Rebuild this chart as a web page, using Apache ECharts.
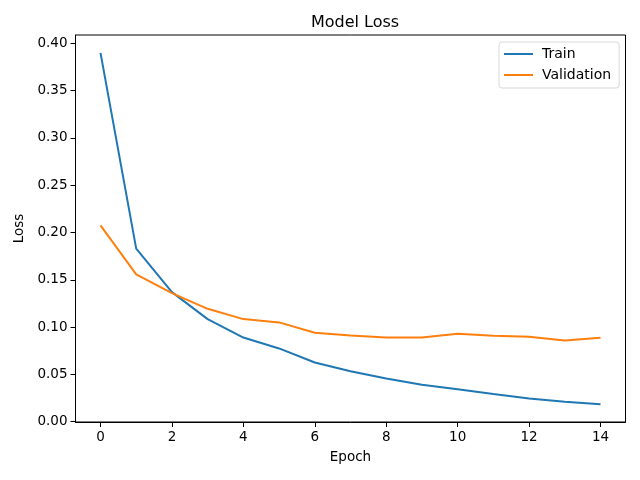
<!DOCTYPE html>
<html>
<head>
<meta charset="utf-8">
<script src="https://cdn.jsdelivr.net/npm/echarts@6/dist/echarts.min.js"></script>
<style>html,body{margin:0;padding:0;background:#fff}#c{width:640px;height:480px}</style>
</head>
<body>
<div id="c"></div>
<script>
var epochs = [0,1,2,3,4,5,6,7,8,9,10,11,12,13,14];
var trainLoss = [0.390,0.183,0.137,0.1085,0.089,0.0775,0.0626,0.0534,0.0457,0.039,0.0344,0.0294,0.0245,0.021,0.0185];
var valLoss = [0.2076,0.1558,0.136,0.1194,0.1085,0.105,0.094,0.0912,0.0891,0.0891,0.0929,0.0908,0.0898,0.086,0.0887];
var xTicks = [0,2,4,6,8,10,12,14];
var yTicks = [0,0.05,0.10,0.15,0.20,0.25,0.30,0.35,0.40];

var font = 'DejaVu Sans';
var chart = echarts.init(document.getElementById('c'), null, {renderer:'canvas'});
function pairs(xs, ys){ return xs.map(function(x,i){return [x, ys[i]];}); }
chart.setOption({
  animation:false,
  backgroundColor:'#fff',
  title:{text:'Model Loss', left:350, top:10, textAlign:'center',
    textStyle:{fontFamily:font, fontSize:16, fontWeight:'normal', color:'#000'}},
  grid:{left:75.5, right:14.5, top:35, bottom:58, show:true, borderColor:'#000', borderWidth:1, backgroundColor:'transparent'},
  legend:{orient:'vertical', left:499, top:42, padding:[5,8,6,5], itemGap:7,
    itemWidth:29, itemHeight:2, icon:'rect',
    backgroundColor:'#fff', borderColor:'#d9d9d9', borderWidth:1, borderRadius:3,
    textStyle:{fontFamily:font, fontSize:14, color:'#000', lineHeight:14, padding:[0,0,0,4]},
    data:['Train','Validation']},
  xAxis:{type:'value', min:-0.7, max:14.7, name:'Epoch', nameLocation:'middle', nameGap:28,
    nameTextStyle:{fontFamily:font, fontSize:13.5, color:'#000'},
    axisLine:{show:true, onZero:false, lineStyle:{color:'#000'}},
    axisTick:{show:true, length:5, customValues:xTicks, lineStyle:{color:'#000'}},
    axisLabel:{customValues:xTicks, fontFamily:font, fontSize:13.5, color:'#000', margin:8},
    splitLine:{show:false}},
  yAxis:{type:'value', min:-0.0003, max:0.4089, name:'Loss', nameLocation:'middle', nameGap:44,
    nameTextStyle:{fontFamily:font, fontSize:13.5, color:'#000'},
    axisLine:{show:true, onZero:false, lineStyle:{color:'#000'}},
    axisTick:{show:true, length:5, customValues:yTicks, lineStyle:{color:'#000'}},
    axisLabel:{customValues:yTicks, fontFamily:font, fontSize:13.5, color:'#000', margin:8,
      padding:[3,0,0,0],
      formatter:function(v){return v.toFixed(2);}},
    splitLine:{show:false}},
  series:[
    {name:'Train', type:'line', data:pairs(epochs,trainLoss), showSymbol:false, symbol:'none',
      lineStyle:{color:'#1f77b4', width:2}, itemStyle:{color:'#1f77b4'}},
    {name:'Validation', type:'line', data:pairs(epochs,valLoss), showSymbol:false, symbol:'none',
      lineStyle:{color:'#ff7f0e', width:2}, itemStyle:{color:'#ff7f0e'}}
  ]
});
</script>
</body>
</html>
